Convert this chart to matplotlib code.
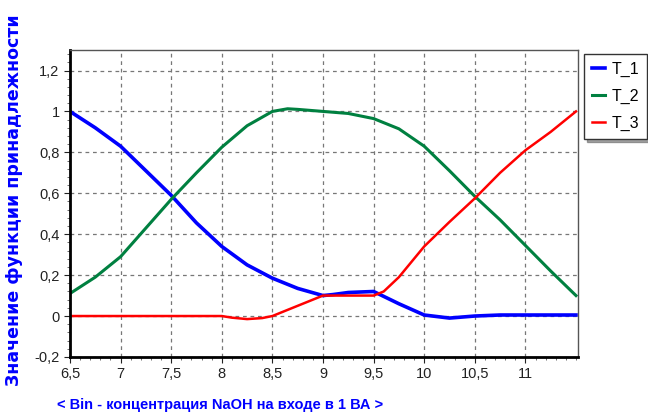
import matplotlib
matplotlib.use("Agg")
import matplotlib.pyplot as plt
from matplotlib.ticker import FixedLocator, AutoMinorLocator, FuncFormatter

plt.rcParams['font.family'] = ['Liberation Sans', 'DejaVu Sans']

# T_1
x1 = [6.5, 6.75, 7.0, 7.25, 7.5, 7.75, 8.0, 8.25, 8.5, 8.75, 9.0, 9.1, 9.25, 9.5,
      9.75, 10.0, 10.25, 10.5, 10.75, 11.0, 11.25, 11.5]
t1 = [1.0, 0.92, 0.83, 0.71, 0.59, 0.455, 0.34, 0.25, 0.185, 0.135, 0.10, 0.105, 0.115, 0.12,
      0.06, 0.005, -0.01, 0.0, 0.005, 0.005, 0.005, 0.005]

# T_2
x2 = [6.5, 6.75, 7.0, 7.25, 7.5, 7.75, 8.0, 8.25, 8.5, 8.65, 8.75, 9.0, 9.25, 9.5,
      9.75, 10.0, 10.25, 10.5, 10.75, 11.0, 11.25, 11.5]
t2 = [0.11, 0.19, 0.29, 0.43, 0.57, 0.70, 0.825, 0.93, 1.0, 1.013, 1.01, 1.0, 0.99, 0.965,
      0.915, 0.83, 0.71, 0.585, 0.47, 0.345, 0.22, 0.10]

# T_3
x3 = [6.5, 7.0, 7.5, 8.0, 8.1, 8.25, 8.4, 8.5, 8.75, 9.0, 9.25, 9.5, 9.6,
      9.75, 10.0, 10.25, 10.5, 10.75, 11.0, 11.25, 11.5]
t3 = [0.0, 0.0, 0.0, 0.0, -0.008, -0.015, -0.01, 0.0, 0.05, 0.1, 0.1, 0.1, 0.12,
      0.19, 0.34, 0.46, 0.575, 0.70, 0.81, 0.90, 1.0]

xticks = [6.5, 7, 7.5, 8, 8.5, 9, 9.5, 10, 10.5, 11]
yticks = [-0.2, 0, 0.2, 0.4, 0.6, 0.8, 1.0, 1.2]

fig = plt.figure(figsize=(6.48, 4.17), dpi=100)
ax = fig.add_axes([0.108, 0.144, 0.784, 0.736])

ax.plot(x1, t1, color='#0000ff', lw=2.6, label='T_1')
ax.plot(x2, t2, color='#008040', lw=2.2, label='T_2')
ax.plot(x3, t3, color='#ff0000', lw=1.8, label='T_3')

ax.set_xlim(6.5, 11.52)
ax.set_ylim(-0.2, 1.3)
ax.xaxis.set_major_locator(FixedLocator(xticks))
ax.yaxis.set_major_locator(FixedLocator(yticks))
ax.xaxis.set_minor_locator(AutoMinorLocator(5))
ax.yaxis.set_minor_locator(AutoMinorLocator(5))

fmt = FuncFormatter(lambda v, p: ('%g' % round(v, 2)).replace('.', ','))
ax.xaxis.set_major_formatter(fmt)
ax.yaxis.set_major_formatter(fmt)
ax.tick_params(which='major', length=4, labelsize=10.5, colors='#222222')
ax.tick_params(which='minor', length=2, colors='#555555')

ax.grid(True, which='major', color='#777777', lw=0.9, ls=(0, (3, 3)))

for s in ['left', 'bottom']:
    ax.spines[s].set_linewidth(2)
    ax.spines[s].set_color('black')
for s in ['top', 'right']:
    ax.spines[s].set_linewidth(1)
    ax.spines[s].set_color('#555555')

ax.set_ylabel('Значение функции принадлежности', color='#0000ff',
              fontsize=12.5, fontweight='bold', family='DejaVu Sans')
ax.yaxis.set_label_coords(-0.092, 0.51)
ax.set_xlabel('< Bin - концентрация NaOH на входе в 1 ВА >', color='#0000ff',
              fontsize=10.5, fontweight='bold')
ax.xaxis.set_label_coords(0.296, -0.135)

fig.legend(loc='upper left', bbox_to_anchor=(0.889, 0.89), fontsize=11.5,
           handlelength=0.8, handletextpad=0.4, borderpad=0.5, labelspacing=0.75,
           fancybox=False, shadow=True, edgecolor='#333333', framealpha=1)

fig.savefig('out.png', dpi=100)
